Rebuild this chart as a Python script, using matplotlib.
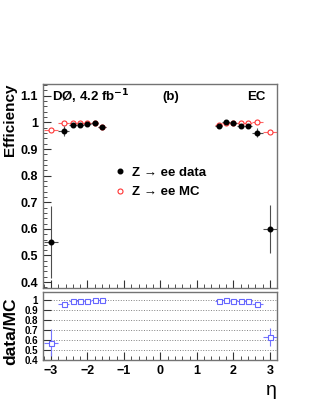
import numpy as np
import matplotlib.pyplot as plt
from matplotlib.lines import Line2D

plt.rcParams['font.family'] = ['Liberation Sans', 'DejaVu Sans']
plt.rcParams['font.weight'] = 'bold'

# bins in eta (EC region)
eta = [-3.0, -2.65, -2.4, -2.2, -2.0, -1.8, -1.6, 1.6, 1.8, 2.0, 2.2, 2.4, 2.65, 3.0]
eta_err = [0.2, 0.15, 0.1, 0.1, 0.1, 0.1, 0.1, 0.1, 0.1, 0.1, 0.1, 0.1, 0.15, 0.2]

eff_data = [0.55, 0.968, 0.990, 0.990, 0.993, 0.996, 0.981,
            0.987, 1.0, 0.999, 0.987, 0.987, 0.962, 0.60]
eff_data_err = [0.135, 0.018, 0.006, 0.005, 0.004, 0.004, 0.005,
                0.005, 0.004, 0.004, 0.005, 0.006, 0.018, 0.09]
eff_mc = [0.970, 0.996, 0.996, 0.998, 0.998, 0.998, 0.981,
          0.990, 0.998, 0.998, 0.997, 0.997, 1.0, 0.965]

ratio = [0.575, 0.967, 0.994, 0.994, 0.996, 1.0, 1.0,
         0.994, 1.0, 0.997, 0.99, 0.992, 0.96, 0.63]
ratio_err = [0.14, 0.015, 0.006, 0.005, 0.004, 0.004, 0.005,
             0.005, 0.004, 0.004, 0.005, 0.006, 0.015, 0.09]

fig = plt.figure(figsize=(3.16, 4.09), dpi=100)
ax = fig.add_axes([0.136, 0.296, 0.741, 0.499])
ax2 = fig.add_axes([0.136, 0.120, 0.741, 0.166])

frame = '0.45'
for a in (ax, ax2):
    for s in a.spines.values():
        s.set_color(frame)
        s.set_linewidth(1.0)
    a.set_xlim(-3.22, 3.2)
    a.tick_params(which='both', direction='in', top=False, right=False,
                  colors='0.2', labelcolor='black', labelsize=9)
    a.tick_params(which='major', length=6)
    a.tick_params(which='minor', length=3)
    a.set_xticks(np.arange(-3, 4, 1))
    a.set_xticks(np.arange(-3.2, 3.21, 0.2), minor=True)

# efficiency panel
ax.errorbar(eta, eff_mc, xerr=eta_err, fmt='o', ms=3.6, mfc='white',
            mec='#ff3333', mew=0.8, ecolor='#ff6666', elinewidth=0.8, zorder=2)
ax.errorbar(eta, eff_data, xerr=eta_err, yerr=eff_data_err, fmt='o', ms=3.3,
            color='black', ecolor='0.3', elinewidth=0.8, zorder=3)
ax.set_ylim(0.378, 1.145)
ax.set_yticks(np.arange(0.4, 1.11, 0.1))
ax.set_yticklabels(['0.4', '0.5', '0.6', '0.7', '0.8', '0.9', '1', '1.1'])
ax.set_yticks(np.arange(0.38, 1.145, 0.02), minor=True)
ax.tick_params(axis='x', labelbottom=False)
ax.set_ylabel('Efficiency', fontsize=11, fontweight='bold', loc='top')
ax.yaxis.set_label_coords(-0.11, 1.0)

ax.text(0.04, 0.935, r'DØ, 4.2 fb$^{\mathbf{-1}}$', transform=ax.transAxes,
        fontsize=9.5, fontweight='bold', va='center')
ax.text(0.545, 0.935, '(b)', transform=ax.transAxes, fontsize=9.5,
        fontweight='bold', va='center', ha='center')
ax.text(0.95, 0.935, 'EC', transform=ax.transAxes, fontsize=9.5,
        fontweight='bold', va='center', ha='right')

handles = [Line2D([], [], ls='none', marker='o', ms=3.3, color='black'),
           Line2D([], [], ls='none', marker='o', ms=3.6, mfc='white',
                  mec='#ff3333', mew=0.8)]
ax.legend(handles, ['Z \u2192 ee data', 'Z \u2192 ee MC'], loc='upper left',
          bbox_to_anchor=(0.29, 0.62), frameon=False, fontsize=9.5,
          handlelength=0.6, handletextpad=0.6, labelspacing=0.55,
          borderaxespad=0)

# ratio panel
ax2.errorbar(eta, ratio, xerr=eta_err, yerr=ratio_err, fmt='s', ms=3.6,
             mfc='white', mec='#6666ff', mew=0.8, ecolor='#7777ff',
             elinewidth=0.8, zorder=3)
ax2.set_ylim(0.4, 1.085)
ax2.set_yticks(np.arange(0.4, 1.01, 0.1))
ax2.set_yticklabels(['0.4', '0.5', '0.6', '0.7', '0.8', '0.9', '1'], fontsize=7)
for g in np.arange(0.5, 1.01, 0.1):
    ax2.axhline(g, color='0.5', ls=':', lw=0.7, zorder=1)
ax2.set_ylabel('data/MC', fontsize=12.5, fontweight='bold')
ax2.yaxis.set_label_coords(-0.105, 0.42)
ax2.set_xlabel('\u03b7', fontsize=14, fontweight='normal', loc='right')

fig.savefig('out.png', dpi=100)
